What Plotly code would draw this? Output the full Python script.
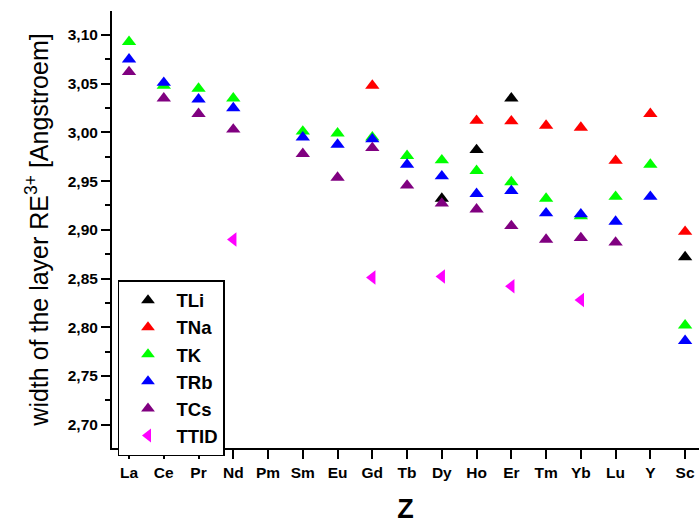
import plotly.graph_objects as go

elements = ["La", "Ce", "Pr", "Nd", "Pm", "Sm", "Eu", "Gd", "Tb", "Dy",
            "Ho", "Er", "Tm", "Yb", "Lu", "Y", "Sc"]
N = None

tli = [N, N, N, N, N, N, N, N, N, 2.932, 2.982, 3.035, N, N, N, N, 2.872]
tna = [N, N, N, N, N, N, N, 3.048, N, N, 3.012, 3.0115, 3.007, 3.005, 2.971, 3.019, 2.898]
tk = [3.093, 3.048, 3.045, 3.035, N, 3.001, 2.999, 2.995, 2.976, 2.9715,
      2.9605, 2.949, 2.932, 2.914, 2.934, 2.967, 2.802]
trb = [3.075, 3.051, 3.034, 3.025, N, 2.995, 2.9875, 2.993, 2.967, 2.955,
       2.937, 2.940, 2.917, 2.916, 2.9085, 2.934, 2.786]
tcs = [3.062, 3.035, 3.019, 3.003, N, 2.978, 2.9536, 2.984, 2.9455, 2.927,
       2.921, 2.904, 2.890, 2.8916, 2.887, N, N]
ttid = [N, N, N, 2.890, N, N, N, 2.851, N, 2.852, N, 2.842, N, 2.828, N, N, N]

series = [
    ("TLi", tli, "#000000", "triangle-up"),
    ("TNa", tna, "#FF0000", "triangle-up"),
    ("TK", tk, "#00FF00", "triangle-up"),
    ("TRb", trb, "#0000FF", "triangle-up"),
    ("TCs", tcs, "#800080", "triangle-up"),
    ("TTID", ttid, "#FF00FF", "triangle-left"),
]

xs = list(range(len(elements)))
fig = go.Figure()
for name, vals, color, sym in series:
    fig.add_trace(go.Scatter(
        x=xs, y=vals, mode="markers", name=name,
        marker=dict(symbol=sym, color=color, size=12.5, line=dict(width=0)),
    ))

font = "Liberation Sans, Arial, sans-serif"
fig.update_layout(
    width=699, height=525,
    margin=dict(l=112, r=0, t=11, b=77),
    paper_bgcolor="white", plot_bgcolor="white",
    separators=",.",
    showlegend=True,
    legend=dict(
        x=0.0102, y=0.384, xanchor="left", yanchor="top",
        bordercolor="black", borderwidth=1.5, bgcolor="white",
        font=dict(family=font, size=18.5, color="black", weight="bold"),
        tracegroupgap=0, itemsizing="constant", itemwidth=47,
    ),
    xaxis=dict(
        range=[-0.49, 16.40], tickmode="array", tickvals=xs, ticktext=elements,
        showgrid=False, zeroline=False, showline=True, linecolor="black", linewidth=2,
        ticks="outside", ticklen=9, tickwidth=2, tickcolor="black",
        tickfont=dict(family=font, size=15.5, color="black", weight="bold"),
        title=dict(text="Z", font=dict(family=font, size=27, color="black", weight="bold"), standoff=20),
    ),
    yaxis=dict(
        range=[2.676, 3.1246], tickmode="linear", tick0=2.70, dtick=0.05, tickformat=".2f",
        showgrid=False, zeroline=False, showline=True, linecolor="black", linewidth=2,
        ticks="outside", ticklen=9, tickwidth=2, tickcolor="black",
        minor=dict(dtick=0.025, tick0=2.70, ticks="outside", ticklen=5, tickwidth=2, tickcolor="black", showgrid=False),
        tickfont=dict(family=font, size=15.5, color="black", weight="bold"),
        title=dict(text="width of the layer RE<sup>3+</sup> [Angstroem]",
                   font=dict(family=font, size=25, color="black"), standoff=12),
    ),
)

fig.write_html("out.html")
